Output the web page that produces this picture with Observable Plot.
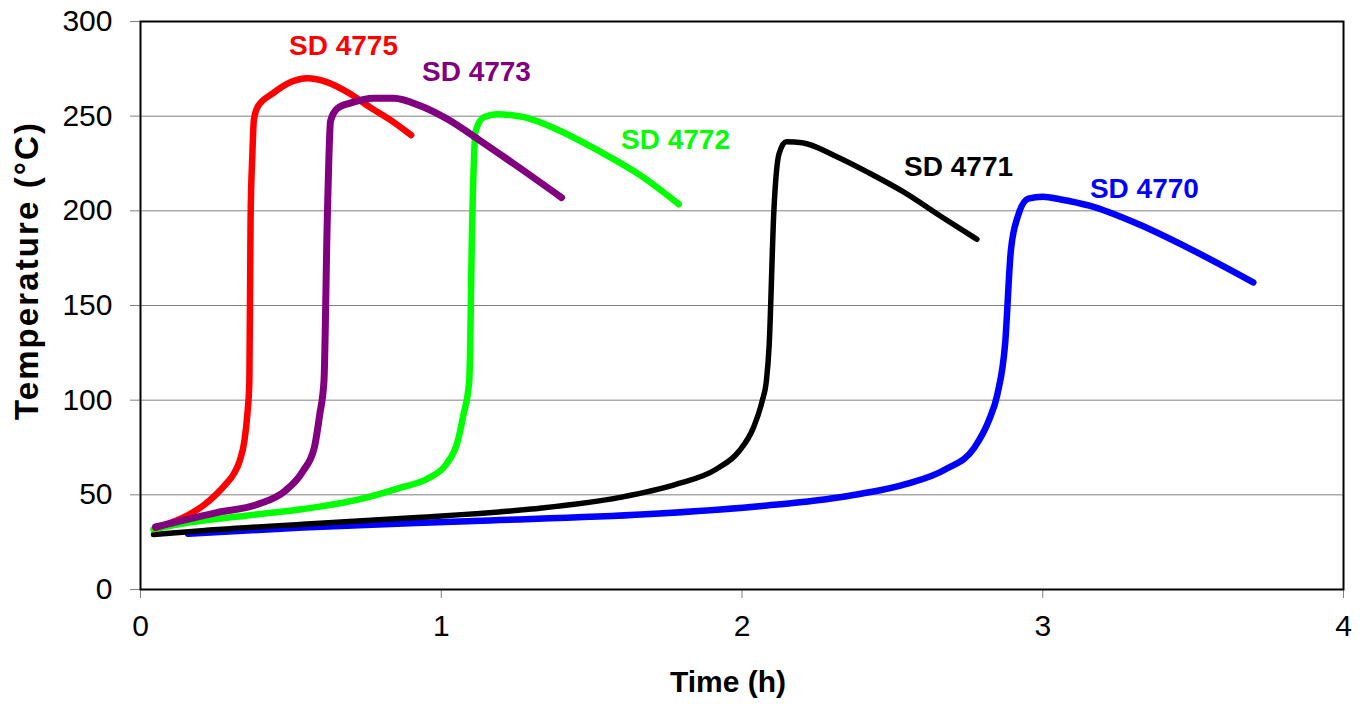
<!DOCTYPE html>
<html><head><meta charset="utf-8">
<script src="https://cdn.jsdelivr.net/npm/d3@7"></script>
<script src="https://cdn.jsdelivr.net/npm/@observablehq/plot@0.6"></script>
<style>body{margin:0;background:#fff} svg{display:block} .ytitle text{letter-spacing:2.1px}</style>
</head><body><div id="chart"></div>
<script>
// Series names and colours
const seriesNames = ["SD 4770", "SD 4771", "SD 4772", "SD 4775", "SD 4773"];
const seriesColors = ["#0000FF", "#000000", "#00FF00", "#FF0000", "#800080"];
const seriesWidths = [6.5, 5.5, 6.5, 6.5, 7];

// Time (h) and temperature (°C) per series
const time4770 = [0.158,0.54,1.11,1.68,2.067,2.353,2.544,2.677,2.773,2.82,2.849,2.875,2.894,2.919,2.952,3.0,3.06,3.155,3.317,3.48,3.70];
const temp4770 = [29.5,32.7,36.2,39.7,44.1,49.4,55.6,63.5,75,89,103,130,179,198,206.5,207.5,206,202.7,193,180.7,162.2];

const time4771 = [0.043,0.16,0.54,0.92,1.30,1.59,1.78,1.914,1.99,2.038,2.067,2.081,2.09,2.106,2.123,2.147,2.20,2.31,2.423,2.537,2.667,2.781];
const temp4771 = [29,30.5,34.5,38,42.5,48.5,55.5,63.5,73,85.5,99.5,110,128,200,230,236.5,236,229,220,210,196.5,185];

const time4772 = [0.043,0.16,0.35,0.54,0.73,0.865,0.96,1.016,1.055,1.074,1.093,1.103,1.114,1.142,1.186,1.275,1.385,1.52,1.66,1.79];
const temp4772 = [31.8,35.3,39,42.5,47.7,53.8,59,66,78.5,92.5,110,195,242,249.5,251,249.5,243,232,219,203.5];

const time4773 = [0.05,0.25,0.39,0.48,0.54,0.578,0.596,0.61,0.621,0.632,0.654,0.70,0.776,0.842,0.93,1.02,1.13,1.24,1.40];
const temp4773 = [33,40.5,45,52,62.5,75,92.5,110,195,247.5,254,257,259.5,259.5,255.5,248.5,237,225,207];

const time4775 = [0.05,0.16,0.21,0.25,0.28,0.31,0.33,0.345,0.355,0.362,0.366,0.372,0.377,0.39,0.44,0.50,0.555,0.62,0.69,0.765,0.84,0.90];
const temp4775 = [32.5,39.5,44.5,50,55,61,68,78,92,110,195,230,248,255,262,268,270,268,262.5,254.5,247,240];

const seriesTimes = [time4770, time4771, time4772, time4775, time4773];
const seriesTemps = [temp4770, temp4771, temp4772, temp4775, temp4773];

// Series label anchors (data units)
const labelNames = ["SD 4775", "SD 4773", "SD 4772", "SD 4771", "SD 4770"];
const labelTime = [0.675, 1.117, 1.779, 2.72, 3.338];
const labelTemp = [287, 273.3, 237.4, 223.1, 211.7];
const labelColors = ["#FF0000", "#800080", "#00FF00", "#000000", "#0000FF"];

// Axis ticks and titles
const xTicks = [0, 1, 2, 3, 4];
const yTicks = [0, 50, 100, 150, 200, 250, 300];
const xTitle = "Time (h)";
const yTitle = "Temperature (°C)";

const lines = seriesNames.map((name, i) => {
  const rows = seriesTimes[i].map((t, j) => ({t, T: seriesTemps[i][j]}));
  return Plot.line(rows, {x: "t", y: "T", stroke: seriesColors[i], strokeWidth: seriesWidths[i],
    curve: "monotone-x", strokeLinecap: "round", strokeLinejoin: "round"});
});

const labels = labelNames.map((name, i) => ({name, t: labelTime[i], T: labelTemp[i], color: labelColors[i]}));

const chart = Plot.plot({
  width: 1366, height: 704,
  marginLeft: 140, marginRight: 23, marginTop: 21, marginBottom: 115,
  style: {fontFamily: "'Liberation Sans', Arial, sans-serif", background: "white", overflow: "visible"},
  x: {domain: [0, 4]},
  y: {domain: [0, 300]},
  marks: [
    Plot.gridY(yTicks.slice(1, -1), {stroke: "#808080", strokeOpacity: 1, strokeWidth: 1}),
    Plot.axisX(xTicks, {tickSize: 9, tickPadding: 16, fontSize: 30, stroke: "#808080", fill: "black", label: null, tickFormat: d => String(d)}),
    Plot.axisY(yTicks, {tickSize: 10, tickPadding: 18, fontSize: 30, stroke: "#808080", fill: "black", label: null, tickFormat: d => String(d)}),
    ...lines,
    Plot.frame({stroke: "black", strokeWidth: 2}),
    Plot.text(labels, {x: "t", y: "T", text: "name", fill: "color", fontSize: 28, fontWeight: "bold"}),
    Plot.text([xTitle], {text: d => d, frameAnchor: "bottom", textAnchor: "middle", lineAnchor: "middle", dy: 93, dx: -14, fontSize: 30, fontWeight: "bold"}),
    Plot.text([yTitle], {text: d => d, frameAnchor: "left", textAnchor: "middle", lineAnchor: "middle", dx: -113, dy: -35, rotate: -90, fontSize: 33, fontWeight: "bold", className: "ytitle"})
  ]
});
document.getElementById("chart").appendChild(chart);
</script>
</body></html>
